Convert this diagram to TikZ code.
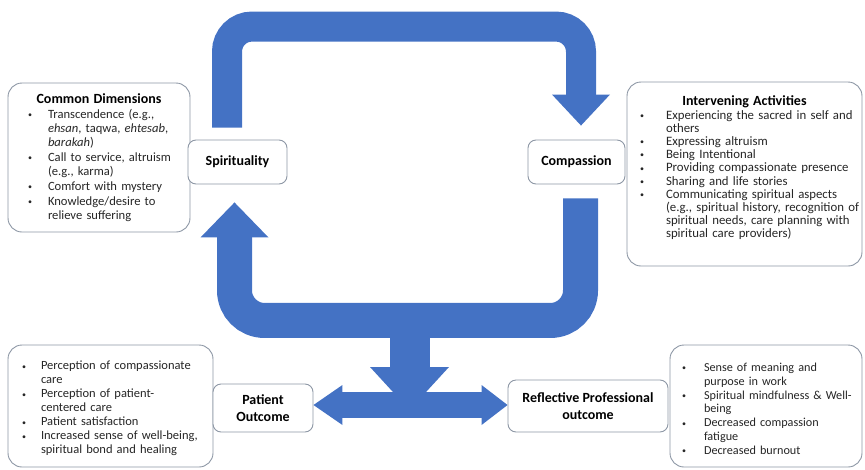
\documentclass[tikz,border=0pt]{standalone}
\usepackage{fontspec}
\setmainfont{Carlito}
\usetikzlibrary{positioning, calc}
\definecolor{flowblue}{HTML}{4472C4}
\definecolor{edgegray}{HTML}{8D97A5}
\definecolor{inkgray}{HTML}{262626}
\newcommand{\listfont}[2]{\fontsize{#1}{#2}\selectfont\setlength{\lineskiplimit}{-50pt}\hyphenpenalty=10000\relax}
\newcommand{\bpoint}[2][20pt]{\par\noindent\makebox[#1][l]{\raisebox{0.8pt}{\fontsize{8}{8}\selectfont\textbullet}}%
    \parbox[t]{\dimexpr\hsize-#1\relax}{\raggedright #2\par\xdef\bpdepth{\the\prevdepth}}\par\prevdepth=\bpdepth\relax}
\newcommand{\boxtitle}[1]{\noindent\makebox[\hsize][c]{\fontsize{14}{14}\selectfont\bfseries\color{black}#1}}
\tikzset{
    infobox/.style={draw=edgegray, line width=0.9pt, rounded corners=14pt, fill=white, align=left, text=inkgray, inner ysep=0pt,
        font=\listfont{12.5pt}{14pt}},
    keynode/.style={draw=edgegray, line width=0.9pt, rounded corners=8pt, fill=white, align=center, inner sep=0pt,
        font=\fontsize{14}{16.5}\selectfont\bfseries},
    band/.style={draw=flowblue, line width=30pt},
    head/.style={fill=flowblue},
}

\begin{document}
\begin{tikzpicture}[x=1pt, y=-1pt]
\useasboundingbox (0,0) rectangle (865,469);

% Side boxes
\node[infobox, text width=142pt, inner xsep=20pt, minimum height=149pt, font=\listfont{12.6pt}{13.8pt}] (dims) at (99,157.5) {%
\setlength{\parskip}{1.5pt}%
\boxtitle{Common Dimensions}
\bpoint{Transcendence (e.g.,\newline\textit{ehsan}, taqwa, \textit{ehtesab},\newline\textit{barakah})}
\bpoint{\mbox{Call to service, altruism}\newline(e.g., karma)}
\bpoint{Comfort with mystery}
\bpoint{Knowledge/desire to\newline relieve suffering}};

\node[infobox, text width=209pt, inner xsep=13pt, minimum height=184pt, font=\listfont{12.8pt}{13.2pt}] (acts) at (744.5,174) {%
\boxtitle{Intervening Activities}
\bpoint[26pt]{\mbox{Experiencing the sacred in self and}\newline others}
\bpoint[26pt]{Expressing altruism}
\bpoint[26pt]{Being Intentional}
\bpoint[26pt]{\mbox{Providing compassionate presence}}
\bpoint[26pt]{Sharing and life stories}
\bpoint[26pt]{Communicating spiritual aspects\newline\mbox{(e.g., spiritual history, recognition of}\newline\mbox{spiritual needs, care planning with}\newline spiritual care providers)}
\vspace*{12pt}};

\node[infobox, text width=177pt, inner xsep=14pt, minimum height=122pt] (gains) at (110.5,406) {%
\bpoint[19pt]{\mbox{Perception of compassionate}\newline care}
\bpoint[19pt]{Perception of patient-\newline centered care}
\bpoint[19pt]{Patient satisfaction}
\bpoint[19pt]{\mbox{Increased sense of well-being,}\newline spiritual bond and healing}};

\node[infobox, text width=168pt, inner xsep=12pt, minimum height=122pt, font=\listfont{12.2pt}{13.9pt}] (growth) at (766,406) {%
\bpoint[22pt]{Sense of meaning and\newline purpose in work}
\bpoint[22pt]{\mbox{Spiritual mindfulness \& Well-}\newline being}
\bpoint[22pt]{Decreased compassion\newline fatigue}
\bpoint[22pt]{Decreased burnout}};

% Key nodes
\node[keynode, minimum width=99pt, minimum height=44pt] (spirit) at (237.5,162) {Spirituality};
\node[keynode, minimum width=97pt, minimum height=44pt] (compass) at (576.5,162) {Compassion};
\node[keynode, minimum width=100pt, minimum height=48pt] (patient) at (263,408) {Patient\\Outcome};
\node[keynode, minimum width=160pt, minimum height=52pt] (reflect) at (588,406) {Reflective Professional\\outcome};

% ── Upper loop ──
\draw[band, rounded corners=25pt] ([xshift=-10.5pt,yshift=12pt]spirit.north) -- ++(0,-101) -| ([xshift=4.5pt,yshift=43pt]compass.north);
\fill[head] ([xshift=4.5pt,yshift=14pt]compass.north) -- ++(-29,-31) -- ++(58,0) -- cycle;

% ── Lower loop ──
\draw[band, line width=35pt, rounded corners=30pt] ([xshift=4pt,yshift=-14pt]compass.south) -- ++(0,122) -| ([xshift=-3pt,yshift=-52pt]spirit.south);
\fill[head] ([xshift=-3pt,yshift=-18pt]spirit.south) -- ++(-34,35) -- ++(68,0) -- cycle;

% ── Outcomes ──
\coordinate (hub) at (409.5,320);
\draw[band, line width=40pt] (hub) -- ++(0,48);
\fill[head] ($(hub)+(-39.5,47)$) -- ++(79,0) -- ($(hub)+(0,90)$) -- cycle;
\draw[band, line width=26pt] ([xshift=28pt,yshift=3pt]patient.east) -- ([xshift=-25pt,yshift=1pt]reflect.west);
\fill[head] ([yshift=3pt]patient.east) -- ++(29,-20) -- ++(0,40) -- cycle;
\fill[head] ([yshift=1pt]reflect.west) -- ++(-26,-20) -- ++(0,40) -- cycle;

\end{tikzpicture}
\end{document}
